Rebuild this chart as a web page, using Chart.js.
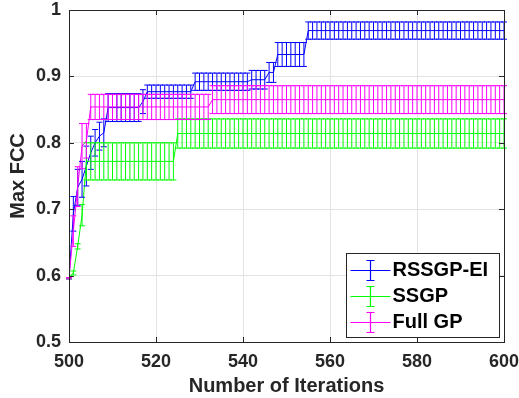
<!DOCTYPE html>
<html>
<head>
<meta charset="utf-8">
<script src="https://cdn.jsdelivr.net/npm/chart.js@4.4.1/dist/chart.umd.min.js"></script>
<style>
  html, body { margin: 0; padding: 0; background: #fff; }
</style>
</head>
<body>
<canvas id="chart" width="519" height="398"></canvas>
<script>
const iterations = [
  500,501,502,503,504,505,506,507,508,509,
  510,511,512,513,514,515,516,517,518,519,
  520,521,522,523,524,525,526,527,528,529,
  530,531,532,533,534,535,536,537,538,539,
  540,541,542,543,544,545,546,547,548,549,
  550,551,552,553,554,555,556,557,558,559,
  560,561,562,563,564,565,566,567,568,569,
  570,571,572,573,574,575,576,577,578,579,
  580,581,582,583,584,585,586,587,588,589,
  590,591,592,593,594,595,596,597,598,599,
  600
];

// RSSGP-EI
const rssgpMean = [
  0.596,0.693,0.733,0.745,0.765,0.785,0.800,0.810,0.815,0.853,
  0.853,0.853,0.853,0.853,0.853,0.853,0.853,0.862,0.877,0.877,
  0.877,0.877,0.877,0.877,0.877,0.877,0.877,0.877,0.877,0.892,
  0.892,0.892,0.892,0.892,0.892,0.892,0.892,0.892,0.892,0.892,
  0.892,0.892,0.895,0.895,0.895,0.895,0.906,0.906,0.933,0.933,
  0.933,0.933,0.933,0.933,0.933,0.969,0.969,0.969,0.969,0.969,
  0.969,0.969,0.969,0.969,0.969,0.969,0.969,0.969,0.969,0.969,
  0.969,0.969,0.969,0.969,0.969,0.969,0.969,0.969,0.969,0.969,
  0.969,0.969,0.969,0.969,0.969,0.969,0.969,0.969,0.969,0.969,
  0.969,0.969,0.969,0.969,0.969,0.969,0.969,0.969,0.969,0.969,
  0.969
];
const rssgpErr = [
  0.001,0.026,0.027,0.027,0.030,0.025,0.020,0.021,0.021,0.021,
  0.021,0.021,0.021,0.021,0.021,0.021,0.021,0.018,0.010,0.010,
  0.010,0.010,0.010,0.010,0.010,0.010,0.010,0.010,0.010,0.013,
  0.013,0.013,0.013,0.013,0.013,0.013,0.013,0.013,0.013,0.013,
  0.013,0.013,0.014,0.014,0.014,0.014,0.015,0.015,0.018,0.018,
  0.018,0.018,0.018,0.018,0.018,0.013,0.013,0.013,0.013,0.013,
  0.013,0.013,0.013,0.013,0.013,0.013,0.013,0.013,0.013,0.013,
  0.013,0.013,0.013,0.013,0.013,0.013,0.013,0.013,0.013,0.013,
  0.013,0.013,0.013,0.013,0.013,0.013,0.013,0.013,0.013,0.013,
  0.013,0.013,0.013,0.013,0.013,0.013,0.013,0.013,0.013,0.013,
  0.013
];

// SSGP
const ssgpMean = [
  0.596,0.604,0.644,0.691,0.772,0.772,0.772,0.772,0.772,0.772,
  0.772,0.772,0.772,0.772,0.772,0.772,0.772,0.772,0.772,0.772,
  0.772,0.772,0.772,0.772,0.772,0.814,0.814,0.814,0.814,0.814,
  0.814,0.814,0.814,0.814,0.814,0.814,0.814,0.814,0.814,0.814,
  0.814,0.814,0.814,0.814,0.814,0.814,0.814,0.814,0.814,0.814,
  0.814,0.814,0.814,0.814,0.814,0.814,0.814,0.814,0.814,0.814,
  0.814,0.814,0.814,0.814,0.814,0.814,0.814,0.814,0.814,0.814,
  0.814,0.814,0.814,0.814,0.814,0.814,0.814,0.814,0.814,0.814,
  0.814,0.814,0.814,0.814,0.814,0.814,0.814,0.814,0.814,0.814,
  0.814,0.814,0.814,0.814,0.814,0.814,0.814,0.814,0.814,0.814,
  0.814
];
const ssgpErr = [
  0.001,0.003,0.004,0.016,0.028,0.028,0.028,0.028,0.028,0.028,
  0.028,0.028,0.028,0.028,0.028,0.028,0.028,0.028,0.028,0.028,
  0.028,0.028,0.028,0.028,0.028,0.022,0.022,0.022,0.022,0.022,
  0.022,0.022,0.022,0.022,0.022,0.022,0.022,0.022,0.022,0.022,
  0.022,0.022,0.022,0.022,0.022,0.022,0.022,0.022,0.022,0.022,
  0.022,0.022,0.022,0.022,0.022,0.022,0.022,0.022,0.022,0.022,
  0.022,0.022,0.022,0.022,0.022,0.022,0.022,0.022,0.022,0.022,
  0.022,0.022,0.022,0.022,0.022,0.022,0.022,0.022,0.022,0.022,
  0.022,0.022,0.022,0.022,0.022,0.022,0.022,0.022,0.022,0.022,
  0.022,0.022,0.022,0.022,0.022,0.022,0.022,0.022,0.022,0.022,
  0.022
];

// Full GP
const fullGpMean = [
  0.596,0.667,0.734,0.795,0.803,0.854,0.854,0.854,0.854,0.854,
  0.854,0.854,0.854,0.854,0.854,0.854,0.854,0.854,0.854,0.854,
  0.854,0.854,0.854,0.854,0.854,0.854,0.854,0.854,0.854,0.854,
  0.854,0.854,0.854,0.865,0.865,0.865,0.865,0.865,0.865,0.865,
  0.865,0.865,0.865,0.865,0.865,0.865,0.865,0.865,0.865,0.865,
  0.865,0.865,0.865,0.865,0.865,0.865,0.865,0.865,0.865,0.865,
  0.865,0.865,0.865,0.865,0.865,0.865,0.865,0.865,0.865,0.865,
  0.865,0.865,0.865,0.865,0.865,0.865,0.865,0.865,0.865,0.865,
  0.865,0.865,0.865,0.865,0.865,0.865,0.865,0.865,0.865,0.865,
  0.865,0.865,0.865,0.865,0.865,0.865,0.865,0.865,0.865,0.865,
  0.865
];
const fullGpErr = [
  0.001,0.023,0.030,0.034,0.026,0.019,0.019,0.019,0.019,0.019,
  0.019,0.019,0.019,0.019,0.019,0.019,0.019,0.019,0.019,0.019,
  0.019,0.019,0.019,0.019,0.019,0.019,0.019,0.019,0.019,0.019,
  0.019,0.019,0.019,0.021,0.021,0.021,0.021,0.021,0.021,0.021,
  0.021,0.021,0.021,0.021,0.021,0.021,0.021,0.021,0.021,0.021,
  0.021,0.021,0.021,0.021,0.021,0.021,0.021,0.021,0.021,0.021,
  0.021,0.021,0.021,0.021,0.021,0.021,0.021,0.021,0.021,0.021,
  0.021,0.021,0.021,0.021,0.021,0.021,0.021,0.021,0.021,0.021,
  0.021,0.021,0.021,0.021,0.021,0.021,0.021,0.021,0.021,0.021,
  0.021,0.021,0.021,0.021,0.021,0.021,0.021,0.021,0.021,0.021,
  0.021
];

const seriesLabels = ["RSSGP-EI", "SSGP", "Full GP"];
const seriesColors = ["#0000ff", "#00ff00", "#ff00ff"];
const xTicks = [500, 520, 540, 560, 580, 600];
const yTicks = [0.5, 0.6, 0.7, 0.8, 0.9, 1];

const FONT = "'Liberation Sans', Arial, Helvetica, sans-serif";
const AXIS = "#262626";

const toPoints = ys => iterations.map((x, i) => ({ x, y: ys[i] }));

// errorbars drawn through the scales (vertical bar + caps)
const errorBars = {
  id: "errorBars",
  afterDatasetsDraw(chart) {
    const { ctx, scales: { x, y } } = chart;
    ctx.save();
    ctx.lineWidth = 1;
    chart.data.datasets.forEach(ds => {
      ctx.strokeStyle = ds.borderColor;
      ctx.beginPath();
      ds.data.forEach((p, i) => {
        const px = x.getPixelForValue(p.x);
        const top = y.getPixelForValue(p.y + ds.err[i]);
        const bot = y.getPixelForValue(p.y - ds.err[i]);
        ctx.moveTo(px, top); ctx.lineTo(px, bot);
        ctx.moveTo(px - 3, top); ctx.lineTo(px + 3, top);
        ctx.moveTo(px - 3, bot); ctx.lineTo(px + 3, bot);
      });
      ctx.stroke();
    });
    ctx.restore();
  }
};

// matlab style box with inward ticks, plus the legend inside the axes
const boxAndLegend = {
  id: "boxAndLegend",
  afterDraw(chart) {
    const { ctx, chartArea: a, scales: { x, y } } = chart;
    ctx.save();
    ctx.strokeStyle = AXIS;
    ctx.lineWidth = 1;
    ctx.beginPath();
    ctx.rect(Math.round(a.left) + 0.5, Math.round(a.top) + 0.5,
             Math.round(a.right - a.left), Math.round(a.bottom - a.top));
    xTicks.forEach(v => {
      const px = Math.round(x.getPixelForValue(v)) + 0.5;
      ctx.moveTo(px, a.bottom); ctx.lineTo(px, a.bottom - 5);
      ctx.moveTo(px, a.top); ctx.lineTo(px, a.top + 5);
    });
    yTicks.forEach(v => {
      const py = Math.round(y.getPixelForValue(v)) + 0.5;
      ctx.moveTo(a.left, py); ctx.lineTo(a.left + 5, py);
      ctx.moveTo(a.right, py); ctx.lineTo(a.right - 5, py);
    });
    ctx.stroke();

    // legend
    const lx = Math.round(a.right) - 157.5, ly = Math.round(a.bottom) - 88.5;
    const lw = 153, lh = 84;
    ctx.fillStyle = "#fff";
    ctx.fillRect(lx, ly, lw, lh);
    ctx.strokeRect(lx, ly, lw, lh);
    seriesLabels.forEach((label, i) => {
      const cy = Math.round(ly + 16 + i * 26) + 0.5;
      const cx = lx + 24;
      ctx.strokeStyle = seriesColors[i];
      ctx.lineWidth = 1.2;
      ctx.beginPath();
      ctx.moveTo(lx + 4, cy); ctx.lineTo(lx + 44, cy);
      ctx.moveTo(cx, cy - 10); ctx.lineTo(cx, cy + 10);
      ctx.moveTo(cx - 4, cy - 10); ctx.lineTo(cx + 4, cy - 10);
      ctx.moveTo(cx - 4, cy + 10); ctx.lineTo(cx + 4, cy + 10);
      ctx.stroke();
    });
    ctx.font = "bold 20px " + FONT;
    ctx.textBaseline = "middle";
    ctx.fillStyle = "#000";
    seriesLabels.forEach((label, i) => {
      ctx.fillText(label, lx + 46, ly + 17 + i * 26);
    });
    ctx.restore();
  }
};

new Chart(document.getElementById("chart"), {
  type: "line",
  data: {
    datasets: [
      { label: seriesLabels[0], data: toPoints(rssgpMean), err: rssgpErr, borderColor: seriesColors[0], order: 3 },
      { label: seriesLabels[1], data: toPoints(ssgpMean), err: ssgpErr, borderColor: seriesColors[1], order: 2 },
      { label: seriesLabels[2], data: toPoints(fullGpMean), err: fullGpErr, borderColor: seriesColors[2], order: 1 }
    ]
  },
  options: {
    responsive: false,
    animation: false,
    events: [],
    layout: { autoPadding: false, padding: { top: 10, right: 15, left: 0, bottom: 0 } },
    elements: {
      line: { borderWidth: 1, tension: 0 },
      point: { radius: 0 }
    },
    plugins: { legend: { display: false }, tooltip: { enabled: false } },
    scales: {
      x: {
        type: "linear",
        min: 500, max: 600,
        afterBuildTicks: s => { s.ticks = xTicks.map(v => ({ value: v })); },
        afterFit: s => { s.height = 56; s.paddingLeft = 0; s.paddingRight = 0; },
        grid: { color: "#e3e3e3", drawTicks: false },
        border: { display: true, color: AXIS },
        ticks: { color: AXIS, padding: 9, maxRotation: 0, font: { family: FONT, size: 18, weight: "bold" } },
        title: { display: true, text: "Number of Iterations", color: AXIS, padding: { top: 0, bottom: 0 },
                 font: { family: FONT, size: 20, weight: "bold" } }
      },
      y: {
        min: 0.5, max: 1,
        afterBuildTicks: s => { s.ticks = yTicks.map(v => ({ value: v })); },
        afterFit: s => { s.width = 69; s.paddingTop = 0; s.paddingBottom = 0; },
        grid: { color: "#e3e3e3", drawTicks: false },
        border: { display: true, color: AXIS },
        ticks: { color: AXIS, padding: 8, callback: v => String(Math.round(v * 10) / 10),
                 font: { family: FONT, size: 18, weight: "bold" } },
        title: { display: true, text: "Max FCC", color: AXIS, padding: { top: 6, bottom: 0 },
                 font: { family: FONT, size: 20, weight: "bold" } }
      }
    }
  },
  plugins: [errorBars, boxAndLegend]
});
</script>
</body>
</html>
